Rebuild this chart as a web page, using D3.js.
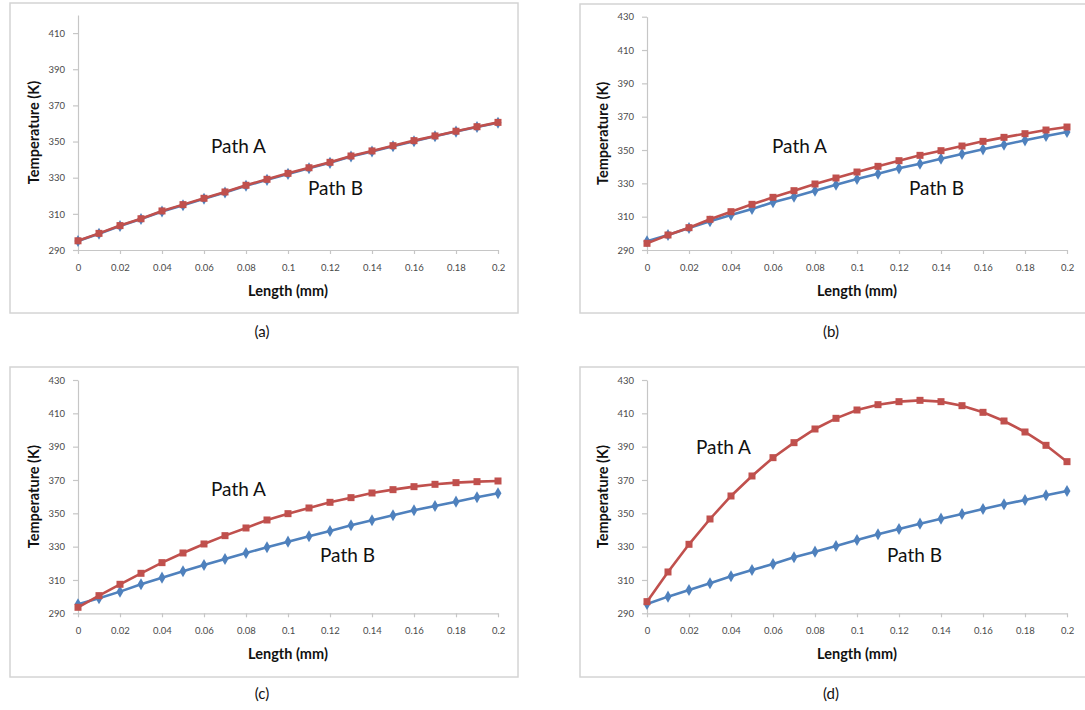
<!DOCTYPE html>
<html><head><meta charset="utf-8">
<script src="https://cdn.jsdelivr.net/npm/d3@7"></script>
<style>
body{margin:0;background:#fff;}
svg{display:block;}
</style></head>
<body><svg id="chart" width="1085" height="710"></svg>
<script>
// ---------- data ----------
const lengthMm = [0,0.01,0.02,0.03,0.04,0.05,0.06,0.07,0.08,0.09,0.1,0.11,0.12,0.13,0.14,0.15,0.16,0.17,0.18,0.19,0.2];
const xTickValues = [0,0.02,0.04,0.06,0.08,0.1,0.12,0.14,0.16,0.18,0.2];
const xTickLabels = ["0","0.02","0.04","0.06","0.08","0.1","0.12","0.14","0.16","0.18","0.2"];
const yTicksShort = [290,310,330,350,370,390,410];
const yTicksFull = [290,310,330,350,370,390,410,430];
const captions = ["(a)","(b)","(c)","(d)"];
const seriesNames = ["Path A","Path B"];

// panel (a)
const pathA_a = [295.1,299.2,303.5,307.3,311.6,315.1,318.6,322.1,325.8,329.1,332.4,335.5,338.5,342.0,344.8,347.7,350.5,353.1,355.7,358.2,360.6];
const pathB_a = [295.0,299.0,303.3,307.1,311.3,314.8,318.3,321.8,325.5,328.8,332.1,335.2,338.2,341.7,344.5,347.4,350.2,352.9,355.5,358.0,360.4];
// panel (b)
const pathA_b = [294.0,299.0,303.4,308.4,313.0,317.4,321.6,325.6,329.6,333.2,336.8,340.2,343.6,346.8,349.6,352.4,355.2,357.6,359.8,362.0,363.8];
const pathB_b = [295.2,299.0,303.2,307.2,311.0,314.6,318.6,322.0,325.6,329.2,332.6,335.8,339.0,341.8,344.8,347.6,350.4,353.2,355.8,358.4,360.8];
// panel (c)
const pathA_c = [293.6,300.6,307.4,314.0,320.4,326.2,331.6,336.6,341.2,346.0,349.8,353.2,356.6,359.4,362.2,364.2,366.0,367.4,368.4,369.0,369.4];
const pathB_c = [295.4,299.0,303.0,307.4,311.4,315.2,319.0,322.6,326.2,329.6,333.0,336.2,339.4,342.8,345.8,348.8,351.8,354.4,357.0,359.6,362.0];
// panel (d)
const pathA_d = [297.0,314.8,331.4,346.6,360.4,372.4,383.4,392.4,400.6,407.0,412.0,415.2,417.0,417.8,417.0,414.6,410.6,405.4,398.8,390.8,381.0];
const pathB_d = [295.6,300.0,304.0,308.0,312.2,316.0,319.6,323.6,327.0,330.4,334.0,337.4,340.6,343.8,346.8,349.6,352.6,355.4,358.0,360.8,363.4];

// ---------- layout ----------
const panels = [
  {cap:captions[0], A:pathA_a, B:pathB_a, yDomain:[290,420], yTicks:yTicksShort,
   frame:{x:10,y:3,w:508,h:310}, px:[78,498], py:[250,15],
   la:{x:211,y:153}, lb:{x:308,y:195}, capY:337},
  {cap:captions[1], A:pathA_b, B:pathB_b, yDomain:[290,430], yTicks:yTicksFull,
   frame:{x:580,y:4,w:520,h:309}, px:[647,1067], py:[250,16.7],
   la:{x:772,y:153}, lb:{x:909,y:195}, capY:337},
  {cap:captions[2], A:pathA_c, B:pathB_c, yDomain:[290,430], yTicks:yTicksFull,
   frame:{x:10,y:367,w:508,h:310}, px:[78,498], py:[613.3,380],
   la:{x:211,y:496}, lb:{x:320,y:562}, capY:699},
  {cap:captions[3], A:pathA_d, B:pathB_d, yDomain:[290,430], yTicks:yTicksFull,
   frame:{x:580,y:367,w:520,h:310}, px:[647,1067], py:[613.3,380],
   la:{x:696,y:454}, lb:{x:887,y:562}, capY:699}
];

const RED = "#C0504D", BLUE = "#4F81BD";
const FONT = "Lato, 'Open Sans', sans-serif";
const svg = d3.select("#chart");

panels.forEach(p => {
  const g = svg.append("g");
  g.append("rect").attr("x",p.frame.x).attr("y",p.frame.y).attr("width",p.frame.w).attr("height",p.frame.h)
    .attr("fill","#fff").attr("stroke","#d4d4d4").attr("stroke-width",1.5);

  const x = d3.scaleLinear().domain([0,0.2]).range(p.px);
  const y = d3.scaleLinear().domain(p.yDomain).range(p.py);

  // y axis
  const ya = g.append("g").attr("transform",`translate(${p.px[0]},0)`)
    .call(d3.axisLeft(y).tickValues(p.yTicks).tickSize(5).tickSizeOuter(0).tickFormat(d3.format("d")));
  ya.select(".domain").attr("stroke","#c6c6c6").attr("stroke-width",1.2);
  ya.selectAll(".tick line").attr("stroke","#c6c6c6").attr("stroke-width",1.2);
  ya.selectAll(".tick text").attr("x",-13).attr("dy","0.34em")
    .attr("font-family",FONT).attr("font-size",9.5).attr("fill","#4a4a4a");

  // x axis
  const xa = g.append("g").attr("transform",`translate(0,${p.py[0]})`)
    .call(d3.axisBottom(x).tickValues(xTickValues).tickSize(4).tickSizeOuter(0)
      .tickFormat((d,i)=>xTickLabels[i]));
  xa.select(".domain").attr("stroke","#c6c6c6").attr("stroke-width",1.2);
  xa.selectAll(".tick line").attr("stroke","#c6c6c6").attr("stroke-width",1.2);
  xa.selectAll(".tick text").attr("y",21).attr("dy",0)
    .attr("font-family",FONT).attr("font-size",9.5).attr("fill","#4a4a4a");

  // axis titles
  const cx = (p.px[0]+p.px[1])/2, cy = (p.py[0]+p.py[1])/2;
  g.append("text").attr("x",cx).attr("y",p.py[0]+46).attr("text-anchor","middle")
    .attr("font-family",FONT).attr("font-weight","bold").attr("font-size",14.5).attr("fill","#111")
    .text("Length (mm)");
  g.append("text").attr("transform",`translate(${p.px[0]-39},${cy}) rotate(-90)`).attr("text-anchor","middle")
    .attr("font-family",FONT).attr("font-weight","bold").attr("font-size",14.5).attr("fill","#111")
    .text("Temperature (K)");

  const line = d3.line().x((d,i)=>x(lengthMm[i])).y(d=>y(d));

  // Path B (blue, diamonds)
  g.append("path").datum(p.B).attr("d",line).attr("fill","none").attr("stroke",BLUE).attr("stroke-width",2.6);
  g.selectAll(".mb").data(p.B).enter().append("path").attr("class","mb")
    .attr("d", d3.symbol().type(d3.symbolDiamond).size(42))
    .attr("transform",(d,i)=>`translate(${x(lengthMm[i])},${y(d)})`).attr("fill",BLUE);

  // Path A (red, squares)
  g.append("path").datum(p.A).attr("d",line).attr("fill","none").attr("stroke",RED).attr("stroke-width",2.6);
  g.selectAll(".ma").data(p.A).enter().append("rect").attr("class","ma")
    .attr("x",(d,i)=>x(lengthMm[i])-3.5).attr("y",d=>y(d)-3.5).attr("width",7).attr("height",7).attr("fill",RED);

  // series labels
  g.append("text").attr("x",p.la.x).attr("y",p.la.y).attr("font-family",FONT).attr("font-size",19).attr("fill","#111").text(seriesNames[0]);
  g.append("text").attr("x",p.lb.x).attr("y",p.lb.y).attr("font-family",FONT).attr("font-size",19).attr("fill","#111").text(seriesNames[1]);

  // caption
  g.append("text").attr("x",cx-26).attr("y",p.capY).attr("text-anchor","middle")
    .attr("font-family",FONT).attr("font-size",15).attr("fill","#111").text(p.cap);
});
</script>
</body></html>
